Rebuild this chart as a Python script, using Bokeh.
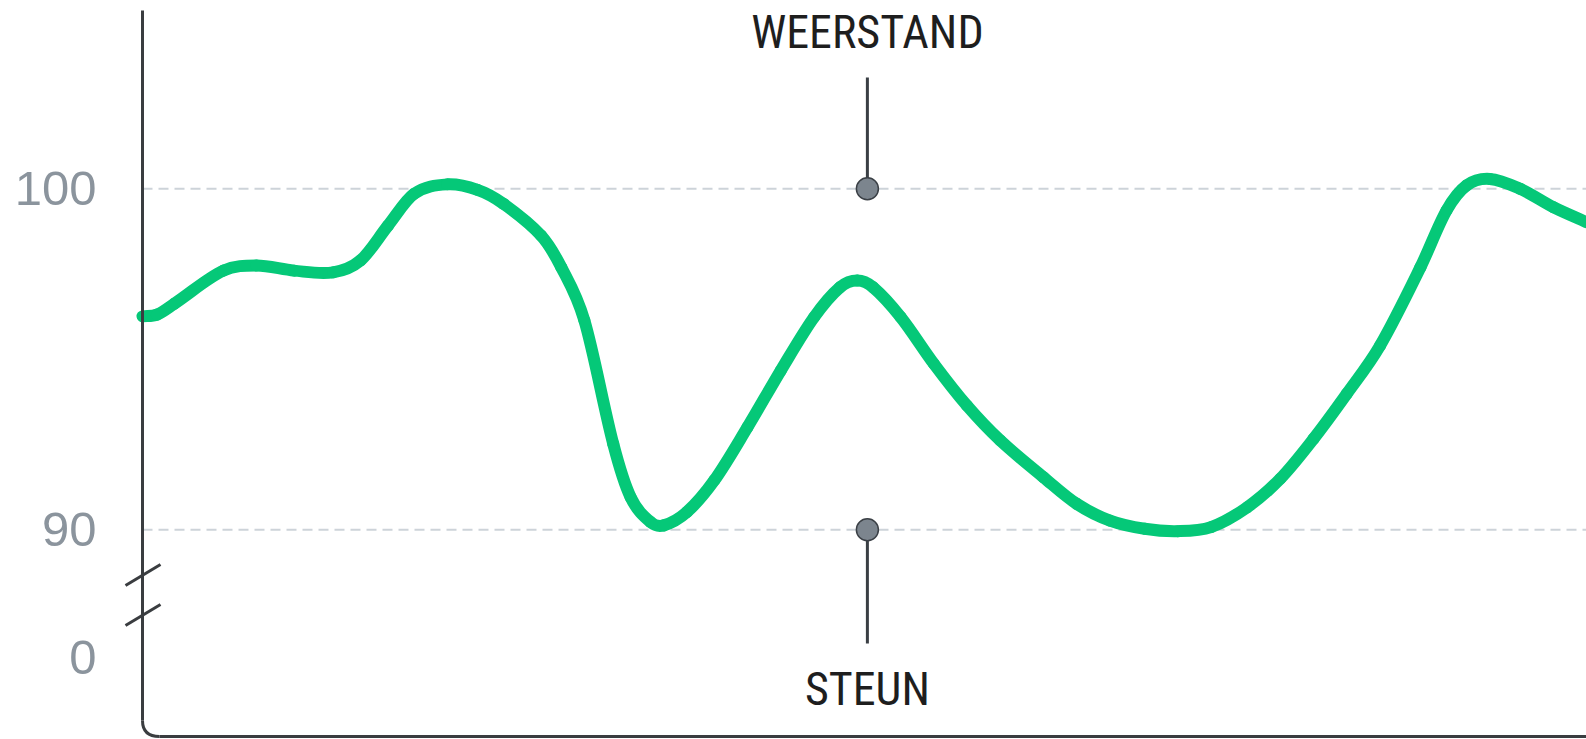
import numpy as np
from bokeh.plotting import figure
from bokeh.models import Range1d, FixedTicker
from bokeh.core.properties import value
from bokeh.embed import file_html
from bokeh.resources import INLINE

# ---- data ----
t = [0.0, 1.0, 2.2, 5.6, 7.9, 10.5, 13.2, 15.1, 17.0, 18.8, 21.1, 23.2, 25.0, 27.6, 29.0,
     30.6, 32.6, 33.8, 35.2, 36.1, 37.7, 39.6, 41.9, 44.2, 46.5, 48.3, 49.5, 50.6,
     52.5, 54.8, 57.1, 59.4, 62.4, 64.7, 67.0, 69.4, 71.7, 74.0, 76.5, 78.8, 81.1,
     83.4, 85.7, 88.5, 90.3, 91.7, 93.3, 95.4, 97.7, 100.0]
price = [96.26, 96.31, 96.63, 97.60, 97.75, 97.60, 97.55, 97.90, 98.92, 99.85, 100.13, 99.97,
         99.56, 98.63, 97.70, 96.14, 92.52, 90.96, 90.22, 90.13, 90.52, 91.45, 93.01,
         94.67, 96.23, 97.11, 97.31, 97.11, 96.24, 94.87, 93.64, 92.62, 91.54, 90.76,
         90.27, 90.03, 89.96, 90.08, 90.66, 91.50, 92.67, 93.99, 95.40, 97.70, 99.36,
         100.10, 100.29, 100.00, 99.46, 99.02]

level_names = ["WEERSTAND", "STEUN"]
level_values = [100, 90]
level_t = 50.2
tick_values = [90, 100]
break_label = "0"

# ---- scale helpers (pixels per data unit) ----
PXX = 14.44
PXY = 34.1
def dx(px):
    return px / PXX
def dy(px):
    return px / PXY

W, H = 1586, 739
LEFT = 120
x0 = -dx(22)
y_top = 100 + dy(188.3)
y_bot = 100 - dy(550.7)
zero_pos = 100 - dy(468.7)

p = figure(width=W, height=H, output_backend="svg", toolbar_location=None,
           x_range=Range1d(x0, 100), y_range=Range1d(y_bot, y_top),
           x_axis_location=None, min_border_left=LEFT, min_border_right=0,
           min_border_top=0, min_border_bottom=0, outline_line_color=None,
           background_fill_color="white", border_fill_color="white")

p.xgrid.visible = False
p.ygrid.visible = False

ax = p.yaxis[0]
ax.ticker = FixedTicker(ticks=[zero_pos] + tick_values)
ax.major_label_overrides = {zero_pos: break_label}
ax.axis_line_color = None
ax.major_tick_out = 0
ax.major_tick_in = 0
ax.minor_tick_out = 0
ax.minor_tick_in = 0
ax.major_label_standoff = 24
ax.major_label_text_font = "Liberation Sans"
ax.major_label_text_font_size = "49px"
ax.major_label_text_color = "#8b949d"

# dashed grid lines at the levels
p.segment(x0=[0] * len(tick_values), x1=[100] * len(tick_values),
          y0=tick_values, y1=tick_values, line_color="#cdd3d9", line_width=2,
          line_dash="10 6")

# smooth price curve: cubic Hermite segments drawn as Bezier glyphs
xs = np.array(t, dtype=float)
ys = np.array(price, dtype=float)
s = np.empty_like(ys)
s[1:-1] = (ys[2:] - ys[:-2]) / (xs[2:] - xs[:-2])
s[0] = (ys[1] - ys[0]) / (xs[1] - xs[0])
s[-1] = (ys[-1] - ys[-2]) / (xs[-1] - xs[-2])
h = xs[1:] - xs[:-1]
p.bezier(x0=xs[:-1], y0=ys[:-1], x1=xs[1:], y1=ys[1:],
         cx0=xs[:-1] + h / 3, cy0=ys[:-1] + s[:-1] * h / 3,
         cx1=xs[1:] - h / 3, cy1=ys[1:] - s[1:] * h / 3,
         line_color="#05c878", line_width=12, line_cap="round")

# broken y axis
AX = "#3a3d40"
p.segment(x0=[0, 0], x1=[0, 0], y0=[100 + dy(178.3), 100 - dy(386.5)],
          y1=[100 - dy(386.5), 100 - dy(531.7)], line_color=AX, line_width=3)
p.segment(x0=[-dx(17), -dx(17)], x1=[dx(18), dx(18)],
          y0=[100 - dy(396.7), 100 - dy(436.7)], y1=[100 - dy(375.7), 100 - dy(415.7)],
          line_color=AX, line_width=3)
p.quadratic(x0=[0], y0=[100 - dy(531.7)], x1=[dx(17)], y1=[100 - dy(547.7)],
            cx=[0], cy=[100 - dy(547.7)], line_color=AX, line_width=3)
p.segment(x0=[dx(17)], x1=[100], y0=[100 - dy(547.7)], y1=[100 - dy(547.7)],
          line_color=AX, line_width=3)

# level stems, dots and labels
p.segment(x0=[level_t, level_t], x1=[level_t, level_t],
          y0=[level_values[0] + dy(111.3), level_values[1]],
          y1=[level_values[0], level_values[1] - dy(113.7)],
          line_color="#3a3f44", line_width=3)
p.scatter([level_t] * 2, level_values, size=22, fill_color="#7c858e",
          line_color="#3b4046", line_width=1.5)
p.text([level_t, level_t], [level_values[0] + dy(157.0), level_values[1] - dy(159.0)],
       text=level_names, text_align="center", text_baseline="alphabetic",
       text_font=value("Liberation Sans Narrow, Roboto Condensed, Roboto"),
       text_font_size="46px", text_color="#1e1e1e")

open("out.html", "w").write(file_html(p, INLINE))
